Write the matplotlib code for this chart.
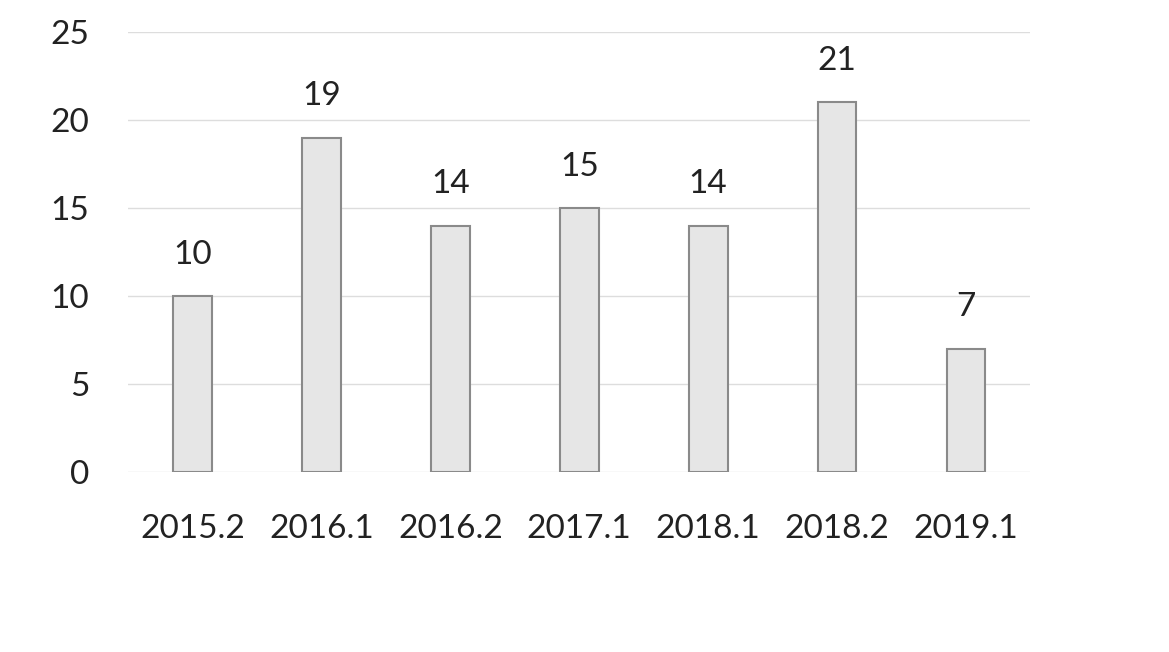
import matplotlib.pyplot as plt

periods = ["2015.2", "2016.1", "2016.2", "2017.1", "2018.1", "2018.2", "2019.1"]
counts = [10, 19, 14, 15, 14, 21, 7]
y_ticks = [0, 5, 10, 15, 20, 25]

plt.rcParams['font.family'] = ['Lato', 'DejaVu Sans']

fig = plt.figure(figsize=(11.69, 6.52), dpi=100)
ax = fig.add_axes([0.1095, 0.276, 0.772, 0.675])

x = range(len(periods))
bars = ax.bar(x, counts, width=0.3, color="#e6e6e6", edgecolor="#8a8a8a",
              linewidth=1.5, zorder=3)

for xi, v in zip(x, counts):
    ax.text(xi, v + 1.5, str(v), ha="center", va="bottom", fontsize=24,
            color="#222222")

ax.set_xlim(-0.5, len(periods) - 0.5)
ax.set_ylim(0, 25)
ax.set_yticks(y_ticks)
ax.set_xticks(list(x))
ax.set_xticklabels(periods)
ax.tick_params(axis="both", length=0, labelsize=24, colors="#222222")
ax.tick_params(axis="y", pad=28)
ax.tick_params(axis="x", pad=30)
ax.yaxis.grid(True, color="#dddddd", linewidth=1, zorder=0)
for s in ax.spines.values():
    s.set_visible(False)

plt.savefig("out.png", dpi=100)
